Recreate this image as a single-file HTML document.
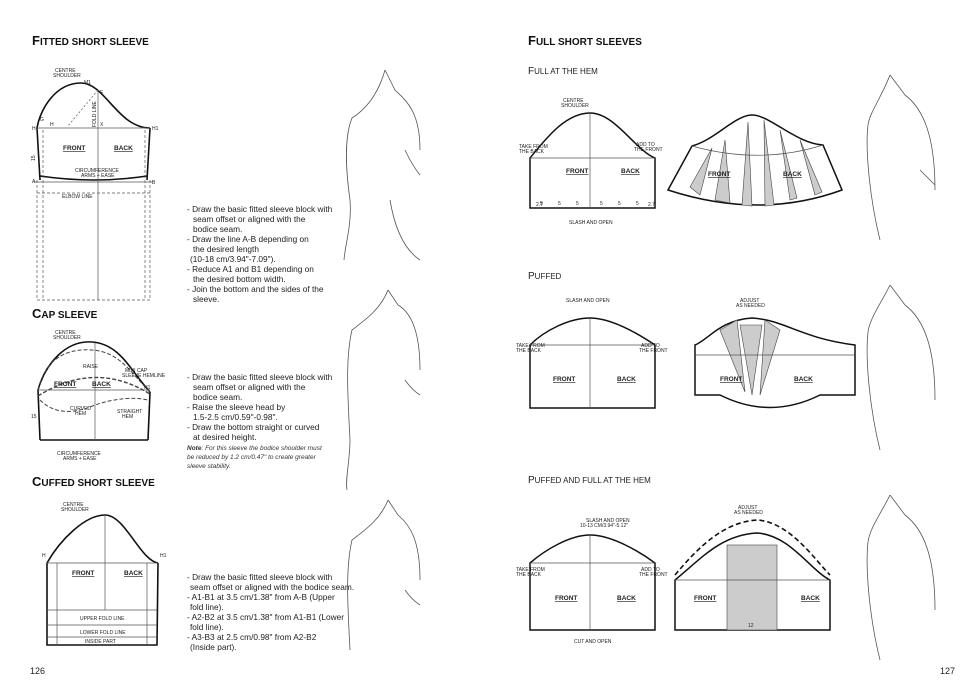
<!DOCTYPE html>
<html><head><meta charset="utf-8"><style>
body{margin:0;background:#fff;}
svg{display:block;font-family:"Liberation Sans",sans-serif;}
.t{font-size:8.3px;fill:#222;}
.s{font-size:5px;fill:#222;}
.b{font-size:6.5px;font-weight:bold;fill:#222;text-decoration:underline;}
.h{font-weight:bold;fill:#111;}
</style></head><body>
<svg width="980" height="700" viewBox="0 0 980 700" xmlns="http://www.w3.org/2000/svg">
<g fill="none" stroke="#111" stroke-width="1.6">
<!-- FITTED -->
<path d="M37,128 C40,110 55,83 81,83 C105,83 118,128 150,128"/>
<path d="M37,128 L40,180"/><path d="M150,128 L147,180"/>
<path d="M40,176 Q95,184 147,176"/>
</g>
<g fill="none" stroke="#555" stroke-width="0.7">
<line x1="37" y1="128" x2="150" y2="128"/>
<line x1="98" y1="90" x2="98" y2="300"/>
<line x1="34" y1="182" x2="153" y2="182"/>
<path d="M98,90 L68,126" stroke-dasharray="2,2"/>
<g stroke-dasharray="3,2"><line x1="37" y1="180" x2="37" y2="300"/><line x1="43" y1="130" x2="43" y2="300"/><line x1="145" y1="130" x2="145" y2="300"/><line x1="150" y1="180" x2="150" y2="300"/><line x1="37" y1="193" x2="150" y2="193"/><line x1="37" y1="300" x2="150" y2="300"/></g>
</g>
<text class="s" x="55" y="72">CENTRE</text><text class="s" x="53" y="77">SHOULDER</text>
<text class="s" x="32" y="130">H</text><text class="s" x="152" y="130">H1</text>
<text class="s" x="40" y="121">G</text><text class="s" x="50" y="126">H</text><text class="s" x="100" y="126">X</text>
<text class="s" x="100" y="94">E</text><text class="s" x="84" y="84">M1</text>
<text class="b" x="63" y="150">FRONT</text><text class="b" x="114" y="150">BACK</text>
<text class="s" x="75" y="172">CIRCUMFERENCE</text><text class="s" x="81" y="177">ARMS + EASE</text>
<text class="s" x="62" y="198">ELBOW LINE</text>
<text class="s" x="32" y="183">A</text><text class="s" x="152" y="184">B</text>
<text class="s" x="30" y="160" transform="rotate(-90 33 158)">15</text>
<text class="s" x="96" y="127" transform="rotate(-90 96 127)">FOLD LINE</text>
<!-- CAP -->
<g fill="none" stroke="#111" stroke-width="1.6">
<path d="M38,390 C45,365 65,340 92,342 C120,344 130,370 150,392"/>
<path d="M38,390 L40,440"/><path d="M150,392 L148,440"/><path d="M40,440 L148,440"/>
</g>
<g fill="none" stroke="#444" stroke-width="1" stroke-dasharray="4,2">
<path d="M38,390 C45,360 65,348 92,350 C120,352 130,372 150,392"/>
<path d="M38,396 Q95,360 150,394" stroke-width="1.4"/>
<path d="M40,400 Q60,420 95,405 Q125,395 148,400"/>
</g>
<line x1="38" y1="390" x2="150" y2="390" stroke="#555" stroke-width="0.7"/>
<line x1="95" y1="343" x2="95" y2="440" stroke="#555" stroke-width="0.7"/>
<text class="s" x="55" y="334">CENTRE</text><text class="s" x="53" y="339">SHOULDER</text>
<text class="s" x="83" y="368">RAISE</text>
<text class="s" x="125" y="372">MINI CAP</text><text class="s" x="122" y="377">SLEEVE HEMLINE</text>
<text class="b" x="54" y="386">FRONT</text><text class="b" x="92" y="386">BACK</text>
<text class="s" x="70" y="410">CURVED</text><text class="s" x="75" y="415">HEM</text>
<text class="s" x="117" y="413">STRAIGHT</text><text class="s" x="122" y="418">HEM</text>
<text class="s" x="57" y="455">CIRCUMFERENCE</text><text class="s" x="63" y="460">ARMS + EASE</text>
<text class="s" x="144" y="389">H1</text><text class="s" x="31" y="418">15</text>
<!-- CUFFED -->
<g fill="none" stroke="#111" stroke-width="1.6">
<path d="M47,563 C60,540 85,515 105,515 C125,515 140,560 158,563"/>
<path d="M47,563 L47,645 L157,645 L158,563"/>
</g>
<g stroke="#555" stroke-width="0.7"><line x1="47" y1="563" x2="158" y2="563"/><line x1="105" y1="515" x2="105" y2="610"/>
<line x1="47" y1="610" x2="157" y2="610"/><line x1="47" y1="625" x2="157" y2="625"/><line x1="47" y1="637" x2="157" y2="637"/><line x1="57" y1="563" x2="57" y2="645"/><line x1="147" y1="563" x2="147" y2="645"/></g>
<text class="s" x="63" y="506">CENTRE</text><text class="s" x="61" y="511">SHOULDER</text>
<text class="b" x="72" y="575">FRONT</text><text class="b" x="124" y="575">BACK</text>
<text class="s" x="80" y="620">UPPER FOLD LINE</text><text class="s" x="80" y="634">LOWER FOLD LINE</text><text class="s" x="85" y="643">INSIDE PART</text>
<text class="s" x="42" y="557">H</text><text class="s" x="160" y="557">H1</text>
<!-- text blocks -->
<g class="t">
<text x="187" y="212">- Draw the basic fitted sleeve block with</text>
<text x="193" y="222">seam offset or aligned with the</text>
<text x="193" y="232">bodice seam.</text>
<text x="187" y="242">- Draw the line A-B depending on</text>
<text x="193" y="252">the desired length</text>
<text x="190" y="262">(10-18 cm/3.94"-7.09").</text>
<text x="187" y="272">- Reduce A1 and B1 depending on</text>
<text x="193" y="282">the desired bottom width.</text>
<text x="187" y="292">- Join the bottom and the sides of the</text>
<text x="193" y="302">sleeve.</text>
<text x="187" y="380">- Draw the basic fitted sleeve block with</text>
<text x="193" y="390">seam offset or aligned with the</text>
<text x="193" y="400">bodice seam.</text>
<text x="187" y="410">- Raise the sleeve head by</text>
<text x="193" y="420">1.5-2.5 cm/0.59"-0.98".</text>
<text x="187" y="430">- Draw the bottom straight or curved</text>
<text x="193" y="440">at desired height.</text>
<text x="187" y="580">- Draw the basic fitted sleeve block with</text>
<text x="190" y="590">seam offset or aligned with the bodice seam.</text>
<text x="187" y="600">- A1-B1 at 3.5 cm/1.38" from A-B (Upper</text>
<text x="190" y="610">fold line).</text>
<text x="187" y="620">- A2-B2 at 3.5 cm/1.38" from A1-B1 (Lower</text>
<text x="190" y="630">fold line).</text>
<text x="187" y="640">- A3-B3 at 2.5 cm/0.98" from A2-B2</text>
<text x="190" y="650">(Inside part).</text>
</g>
<g style="font-size:6.5px;font-style:italic;fill:#333"><text x="187" y="450"><tspan font-weight="bold">Note</tspan>: For this sleeve the bodice shoulder must</text><text x="187" y="459">be reduced by 1.2 cm/0.47" to create greater</text><text x="187" y="468">sleeve stability.</text></g>
<!-- Titles -->
<text class="h" x="32" y="45" font-size="13">F<tspan font-size="10">ITTED SHORT SLEEVE</tspan></text>
<text class="h" x="32" y="318" font-size="13">C<tspan font-size="10">AP SLEEVE</tspan></text>
<text class="h" x="32" y="486" font-size="13">C<tspan font-size="10">UFFED SHORT SLEEVE</tspan></text>
<text class="h" x="528" y="45" font-size="13">F<tspan font-size="10">ULL SHORT SLEEVES</tspan></text>
<text x="528" y="74" font-size="10" fill="#222">F<tspan font-size="8">ULL AT THE HEM</tspan></text>
<text x="528" y="279" font-size="10" fill="#222">P<tspan font-size="8">UFFED</tspan></text>
<text x="528" y="483" font-size="10" fill="#222">P<tspan font-size="8">UFFED AND FULL AT THE HEM</tspan></text>
<text x="30" y="674" font-size="9" fill="#222">126</text><text x="940" y="674" font-size="9" fill="#222">127</text>
<!-- RIGHT: full at hem -->
<g fill="none" stroke="#111" stroke-width="1.5">
<path d="M530,158 C545,140 565,113 590,113 C615,113 635,150 655,158 L655,208 L530,208 Z"/>
<path d="M692,146 C715,140 735,115 752,115 C770,115 795,143 823,145 L842,190 Q760,220 668,190 Z"/>
<!-- puffed -->
<path d="M530,345 C545,330 570,318 590,318 C612,318 640,335 655,345 L655,408 L530,408 Z"/>
<path d="M695,345 C708,340 720,320 752,318 C785,320 800,338 855,345 L855,395 L820,395 Q770,420 720,395 L695,395 Z"/>
<!-- puffed and full -->
<path d="M530,563 C545,550 570,535 590,535 C612,535 640,552 655,563 L655,630 L530,630 Z"/>
<path d="M675,580 C700,560 720,535 757,533 C790,535 810,570 830,580 L830,630 L675,630 Z"/>
</g>
<g fill="#ccc" stroke="#444" stroke-width="0.6">
<polygon points="690,187 712,148 700,195"/><polygon points="715,200 725,140 730,203"/><polygon points="742,205 748,122 752,206"/><polygon points="765,206 764,120 774,205"/><polygon points="790,200 780,130 797,198"/><polygon points="815,195 800,140 822,192"/>
<polygon points="720,330 745,392 737,320"/><polygon points="765,320 760,395 780,330"/><polygon points="740,325 752,395 762,325"/>
<rect x="727" y="545" width="50" height="85"/>
</g>
<path d="M675,575 C700,545 725,522 757,520 C790,522 815,560 830,575" fill="none" stroke="#111" stroke-width="1.6" stroke-dasharray="5,3"/>
<g stroke="#555" stroke-width="0.7">
<line x1="530" y1="158" x2="655" y2="158"/><line x1="530" y1="345" x2="655" y2="345"/><line x1="530" y1="563" x2="655" y2="563"/>
<line x1="590" y1="113" x2="590" y2="208"/><line x1="590" y1="318" x2="590" y2="408"/><line x1="590" y1="535" x2="590" y2="630"/>
<line x1="695" y1="355" x2="855" y2="355"/><line x1="675" y1="580" x2="830" y2="580"/>
<path d="M692,146 Q760,165 823,145" fill="none"/>
</g>
<g class="s">
<text x="563" y="102">CENTRE</text><text x="561" y="107">SHOULDER</text>
<text x="519" y="148">TAKE FROM</text><text x="519" y="153">THE BACK</text>
<text x="636" y="146">ADD TO</text><text x="634" y="151">THE FRONT</text>
<text x="569" y="224">SLASH AND OPEN</text>
<text x="566" y="302">SLASH AND OPEN</text>
<text x="516" y="347">TAKE FROM</text><text x="516" y="352">THE BACK</text>
<text x="641" y="347">ADD TO</text><text x="639" y="352">THE FRONT</text>
<text x="740" y="302">ADJUST</text><text x="736" y="307">AS NEEDED</text>
<text x="586" y="522">SLASH AND OPEN</text><text x="580" y="527">10-13 CM/3.94"-5.12"</text>
<text x="516" y="571">TAKE FROM</text><text x="516" y="576">THE BACK</text>
<text x="641" y="571">ADD TO</text><text x="639" y="576">THE FRONT</text>
<text x="574" y="643">CUT AND OPEN</text>
<text x="738" y="509">ADJUST</text><text x="734" y="514">AS NEEDED</text>
<text x="748" y="627">12</text>
</g>
<g class="b">
<text x="566" y="173">FRONT</text><text x="621" y="173">BACK</text>
<text x="708" y="176">FRONT</text><text x="783" y="176">BACK</text>
<text x="553" y="381">FRONT</text><text x="617" y="381">BACK</text>
<text x="720" y="381">FRONT</text><text x="794" y="381">BACK</text>
<text x="555" y="600">FRONT</text><text x="617" y="600">BACK</text>
<text x="694" y="600">FRONT</text><text x="801" y="600">BACK</text>
</g>
<g class="s"><text x="540" y="205">5</text><text x="558" y="205">5</text><text x="576" y="205">5</text><text x="600" y="205">5</text><text x="618" y="205">5</text><text x="636" y="205">5</text><text x="536" y="206">2.7</text><text x="648" y="206">2.7</text></g>
<!-- mannequin sketches -->
<g fill="none" stroke="#555" stroke-width="0.8">
<path d="M385,70 C378,95 365,110 352,118 C345,135 345,165 350,200 C352,225 345,245 344,260 M385,70 L395,90 C405,100 420,110 420,150 M405,150 Q412,165 420,175 M390,200 C395,230 405,250 420,260"/>
<path d="M388,290 C380,310 365,320 352,330 C345,360 348,400 350,440 C350,460 345,480 347,490 M388,290 L398,305 C410,312 420,330 420,370 M405,380 Q412,390 420,395"/>
<path d="M388,500 C380,520 365,530 352,540 C345,570 348,610 350,650 M388,500 L398,515 C410,525 420,540 420,580 M405,590 Q412,600 420,605"/>
<path d="M890,75 C880,100 870,112 868,125 C865,150 870,200 880,240 M890,75 L905,95 C925,110 935,140 935,190 M920,170 Q930,180 935,185"/>
<path d="M890,285 C880,305 870,318 868,332 C865,360 870,410 880,450 M890,285 L905,305 C925,320 935,350 935,400"/>
<path d="M890,495 C880,515 870,528 868,542 C865,570 870,620 880,660 M890,495 L905,515 C925,530 935,560 935,610"/>
</g>
</svg>
</body></html>
